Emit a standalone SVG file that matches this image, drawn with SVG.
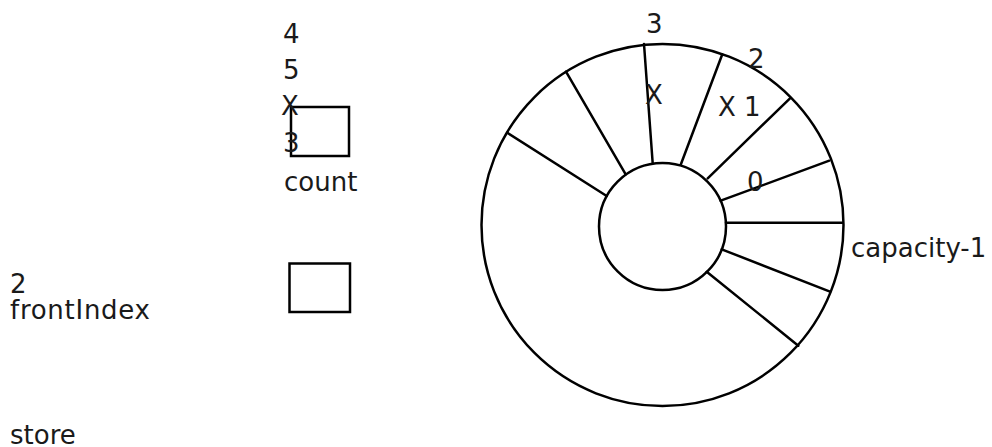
<svg xmlns="http://www.w3.org/2000/svg" width="992" height="447" viewBox="0 0 992 447">
<style>
text{font-family:"DejaVu Sans",Verdana,sans-serif;font-size:26px;fill:#1a1a1a}
.ln{fill:none;stroke:#000;stroke-width:2.5;stroke-linecap:round}
</style>
<rect width="992" height="447" fill="#fff"/>
<g id="count">
<rect class="ln" x="291" y="107" width="58" height="49"/>
<text x="283" y="43">4</text>
<text x="283" y="79">5</text>
<text x="281" y="115">X</text>
<text x="283" y="152">3</text>
<text x="284" y="191">count</text>
</g>
<g id="frontIndex">
<rect class="ln" x="289.5" y="263.5" width="60.5" height="48.5"/>
<text x="10" y="293">2</text>
<text x="10" y="319" textLength="140">frontIndex</text>
</g>
<g id="store">
<text x="10" y="444">store</text>
</g>
<g id="ring">
<circle class="ln" cx="662.5" cy="225" r="181"/>
<circle class="ln" cx="662.5" cy="226.5" r="63.5"/>
<path class="ln" d="M566 71.7L625.7 174.3M507.3 132.7L606.7 196M644 44L652.7 163.3M722.3 54.3L681 164M790 98.3L707.7 178.3M829.3 160.7L720.7 200.7M726 222.7L842.7 222.7M721.7 249.3L830 291.7M706.7 271.7L798.3 345.7"/>
<text x="646" y="33">3</text>
<text x="748" y="68">2</text>
<text x="645" y="104">X</text>
<text x="718" y="116">X 1</text>
<text x="747" y="191">0</text>
<text x="851" y="257">capacity-1</text>
</g>
</svg>
